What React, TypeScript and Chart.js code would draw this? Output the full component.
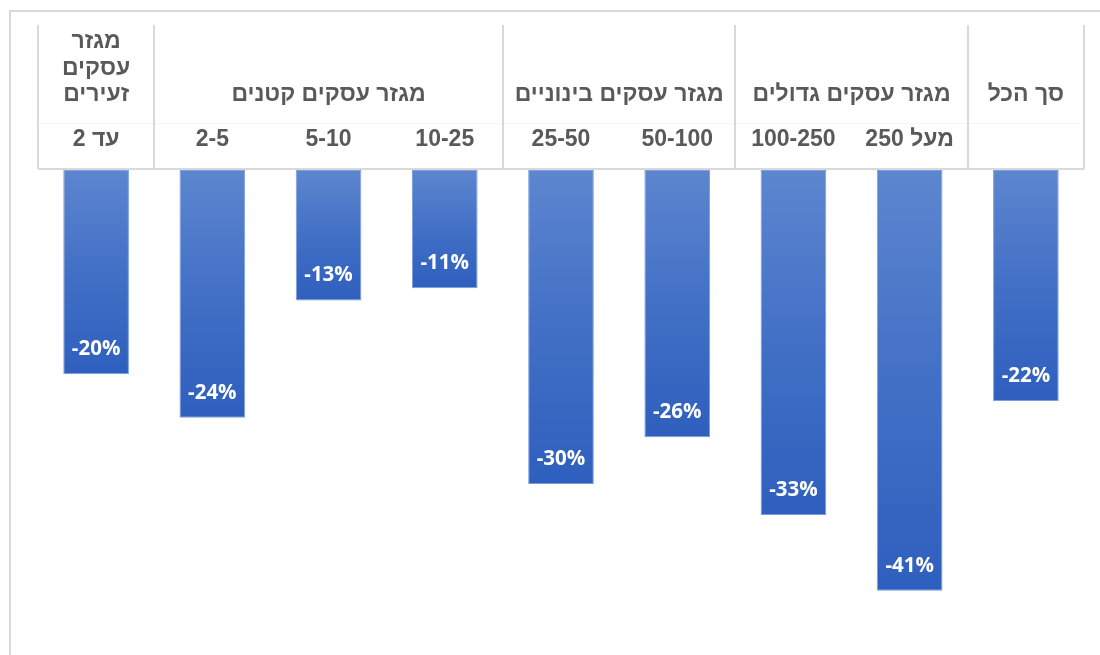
import React, { useEffect, useRef } from "react";
import { Chart, registerables } from "chart.js";

Chart.register(...registerables);

const categories: string[] = ["עד 2", "2-5", "5-10", "10-25", "25-50", "50-100", "100-250", "מעל 250", ""];
const values: number[] = [-19.7, -23.9, -12.6, -11.4, -30.3, -25.8, -33.3, -40.6, -22.3];
const groupNames: string[] = ["מגזר עסקים זעירים", "מגזר עסקים קטנים", "מגזר עסקים בינוניים", "מגזר עסקים גדולים", "סך הכל"];
const groupSizes: number[] = [1, 3, 2, 2, 1];

const LINE = "#d9d9d9";
const TEXT = "#595959";
const AXIS_FONT = "bold 23px 'Liberation Sans', Arial, sans-serif";
const LABEL_FONT = "bold 20.5px 'Open Sans', sans-serif";

const framePlugin = {
  id: "frame",
  beforeDraw(chart: any) {
    const { ctx, width, height } = chart;
    ctx.save();
    ctx.fillStyle = "#ffffff";
    ctx.fillRect(0, 0, width, height);
    ctx.strokeStyle = LINE;
    ctx.lineWidth = 2;
    ctx.beginPath();
    ctx.moveTo(10, height + 2);
    ctx.lineTo(10, 11);
    ctx.lineTo(width + 2, 11);
    ctx.stroke();
    ctx.restore();
  },
};

const axisPlugin = {
  id: "multiAxis",
  afterDraw(chart: any) {
    const { ctx } = chart;
    const xs = chart.scales.x;
    const w = xs.getPixelForValue(1) - xs.getPixelForValue(0);
    const edge = (i: number) => xs.getPixelForValue(i) - w / 2;
    const top = 25;
    const bottom = chart.chartArea.top - 1;
    const catY = 140;
    const grpY = 95;
    const lh = 26.5;

    ctx.save();
    ctx.strokeStyle = "#f5f5f5";
    ctx.lineWidth = 1;
    ctx.beginPath();
    ctx.moveTo(edge(0), 123.5);
    ctx.lineTo(edge(categories.length), 123.5);
    ctx.stroke();

    ctx.strokeStyle = LINE;
    ctx.lineWidth = 2;
    ctx.beginPath();
    ctx.moveTo(edge(0), bottom);
    ctx.lineTo(edge(categories.length), bottom);
    let idx = 0;
    const bounds: number[] = [0];
    groupSizes.forEach((s) => {
      idx += s;
      bounds.push(idx);
    });
    bounds.forEach((b) => {
      const x = Math.round(edge(b));
      ctx.moveTo(x, top);
      ctx.lineTo(x, bottom);
    });
    ctx.stroke();

    ctx.fillStyle = TEXT;
    ctx.font = AXIS_FONT;
    ctx.direction = "rtl";
    ctx.textAlign = "center";
    ctx.textBaseline = "middle";
    categories.forEach((c, i) => {
      if (c) ctx.fillText(c, xs.getPixelForValue(i), catY);
    });

    let start = 0;
    groupNames.forEach((g, gi) => {
      const end = start + groupSizes[gi];
      const cx = (edge(start) + edge(end)) / 2;
      const maxW = edge(end) - edge(start) - 16;
      const words = g.split(" ");
      const lines: string[] = [];
      let cur = "";
      words.forEach((wd) => {
        const test = cur ? cur + " " + wd : wd;
        if (ctx.measureText(test).width > maxW && cur) {
          lines.push(cur);
          cur = wd;
        } else cur = test;
      });
      if (cur) lines.push(cur);
      lines.forEach((ln, li) => {
        ctx.fillText(ln, cx, grpY - (lines.length - 1 - li) * lh);
      });
      start = end;
    });
    ctx.restore();
  },
};

const labelPlugin = {
  id: "barLabels",
  afterDatasetsDraw(chart: any) {
    const { ctx } = chart;
    const meta = chart.getDatasetMeta(0);
    ctx.save();
    ctx.fillStyle = "#ffffff";
    ctx.font = LABEL_FONT;
    ctx.direction = "ltr";
    ctx.textAlign = "center";
    ctx.textBaseline = "middle";
    meta.data.forEach((el: any, i: number) => {
      ctx.fillText(Math.round(values[i]) + "%", el.x, el.y - 25);
    });
    ctx.restore();
  },
};

export default function App() {
  const ref = useRef<HTMLCanvasElement>(null);
  useEffect(() => {
    if (!ref.current) return;
    const chart = new Chart(ref.current, {
      type: "bar",
      data: {
        labels: categories.map((c, i) => c || "total" + i),
        datasets: [
          {
            data: values,
            backgroundColor: (c: any) => {
              const chart = c.chart;
              const ys = chart.scales.y;
              if (!chart.chartArea || !ys || c.raw === undefined) return "#4472c4";
              const y0 = ys.getPixelForValue(0);
              const y1 = ys.getPixelForValue(c.raw);
              const g = chart.ctx.createLinearGradient(0, y0, 0, y1);
              g.addColorStop(0, "#5d86cf");
              g.addColorStop(0.5, "#4270c6");
              g.addColorStop(1, "#2f5fbe");
              return g;
            },
            borderColor: "#7c9edc",
            borderWidth: 1,
            borderSkipped: false,
            barPercentage: 0.565,
            categoryPercentage: 1,
          },
        ],
      },
      options: {
        responsive: false,
        animation: false,
        layout: { padding: { left: 38, right: 16, top: 170, bottom: 0 } },
        plugins: { legend: { display: false }, tooltip: { enabled: false } },
        scales: {
          x: { display: false, offset: true },
          y: { display: false, min: -46.8, max: 0 },
        },
      },
      plugins: [framePlugin, axisPlugin, labelPlugin],
    });
    return () => chart.destroy();
  }, []);
  return (
    <div style={{ position: "absolute", left: 0, top: 0, width: 1100, height: 655, overflow: "hidden" }}>
      <canvas ref={ref} width={1100} height={655} />
    </div>
  );
}
